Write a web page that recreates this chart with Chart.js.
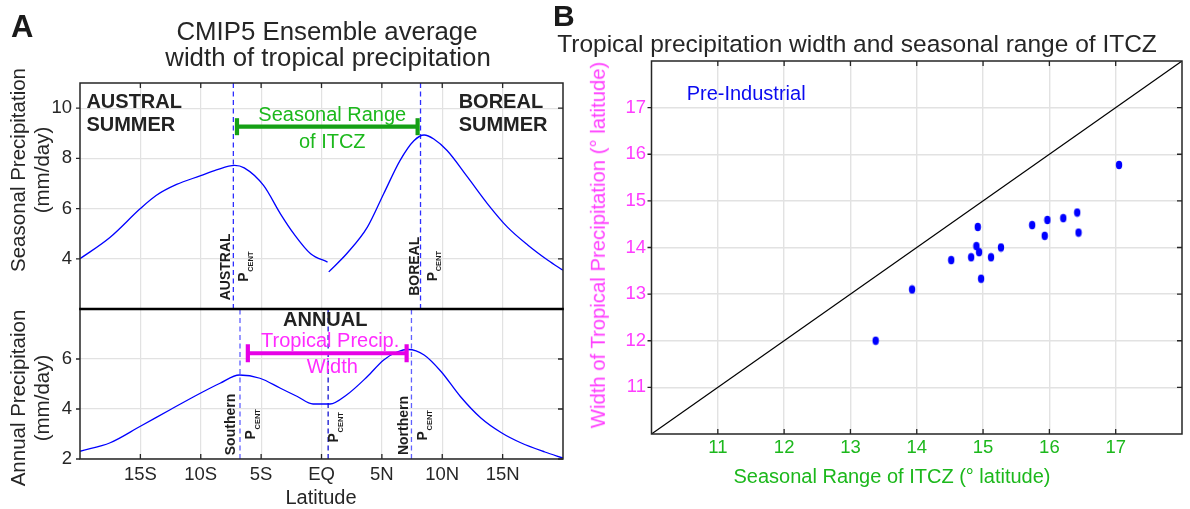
<!DOCTYPE html>
<html><head><meta charset="utf-8">
<script src="https://cdn.jsdelivr.net/npm/chart.js@4/dist/chart.umd.min.js"></script>
<style>
html,body{margin:0;padding:0;background:#fff;}
#wrap{position:relative;width:1190px;height:509px;overflow:hidden;font-family:"Liberation Sans",Arial,Helvetica,sans-serif;color:#262626;}
canvas{position:absolute;left:0;top:0;}
.t{position:absolute;white-space:nowrap;line-height:1;}
.c{position:absolute;white-space:nowrap;line-height:1;transform:translateX(-50%);}
.rot{position:absolute;white-space:nowrap;transform:translate(-50%,-50%) rotate(-90deg);text-align:center;}
</style></head>
<body><div id="wrap">
<canvas id="aTop" width="1190" height="509"></canvas>
<canvas id="aBot" width="1190" height="509"></canvas>
<canvas id="bChart" width="1190" height="509"></canvas>

<div class="t" style="left:11px;top:11px;font-size:31px;font-weight:bold;color:#1a1a1a">A</div>
<div class="t" style="left:553px;top:1px;font-size:30px;font-weight:bold;color:#1a1a1a">B</div>
<div class="c" style="left:327px;top:19px;font-size:25.8px">CMIP5 Ensemble average</div>
<div class="c" style="left:328px;top:45.2px;font-size:25.8px">width of tropical precipitation</div>
<div class="c" style="left:857px;top:32.3px;font-size:24.5px">Tropical precipitation width and seasonal range of ITCZ</div>

<div class="rot" style="left:29.9px;top:170px;font-size:20.5px;line-height:24px">Seasonal Precipitation<br>(mm/day)</div>
<div class="rot" style="left:29.9px;top:397.5px;font-size:20.5px;line-height:24px">Annual Precipitaion<br>(mm/day)</div>
<div class="c" style="left:321px;top:487.4px;font-size:20px">Latitude</div>

<div class="rot" style="left:597.6px;top:245px;font-size:20.3px;line-height:1;color:#ff3cff">Width of Tropical Precipitation (° latitude)</div>
<div class="c" style="left:892px;top:465.7px;font-size:20px;color:#1cb81c">Seasonal Range of ITCZ (° latitude)</div>
</div>
<script>
// ---------------- data ----------------
// Panel A (top): seasonal precipitation (mm/day) vs latitude (deg, S negative)
const australLat = [-20, -17.5, -15, -13.7, -12, -10, -8.7, -7.2, -6.4, -4.8, -3.4, -2.3, -0.9, 0.5];
const australVal = [4.0, 4.86, 6.0, 6.52, 6.96, 7.31, 7.54, 7.72, 7.62, 6.92, 5.79, 5.0, 4.2, 3.87];
const borealLat = [0.6, 2.1, 3.8, 5.15, 6.5, 7.65, 8.5, 9.3, 10.4, 12.1, 13.75, 15.4, 17.1, 18.75, 20];
const borealVal = [3.48, 4.21, 5.26, 6.59, 7.91, 8.70, 8.93, 8.77, 8.31, 7.25, 6.19, 5.26, 4.54, 3.94, 3.54];
// Panel A (bottom): annual precipitation
const annualLat = [-20, -17.5, -15, -12.5, -10, -8.4, -6.8, -5.1, -3.4, -2, -0.7, 0.7, 2.1, 3.8, 5.15, 6.3, 7.2, 8.5, 9.9, 11.5, 13.2, 14.9, 16.5, 18.5, 20];
const annualVal = [2.31, 2.65, 3.31, 3.98, 4.64, 5.03, 5.36, 5.23, 4.83, 4.5, 4.2, 4.2, 4.57, 5.30, 5.96, 6.29, 6.38, 6.16, 5.50, 4.50, 3.64, 3.05, 2.65, 2.28, 2.04];
// precipitation centroids (latitude)
const seasonalPcent = [-7.3, 8.2];
const annualPcent = [-6.75, 0.55, 7.45];
// range bars (latitude end points)
const itczRangeBar = [-7.0, 7.96];
const precipWidthBar = [-6.1, 7.05];
// latitude ticks
const latTicks = [-15, -10, -5, 0, 5, 10, 15];
const latTickLabels = ['15S', '10S', '5S', 'EQ', '5N', '10N', '15N'];
const seasonalYTicks = [4, 6, 8, 10];
const annualYTicks = [2, 4, 6];
// Panel B: CMIP5 models, pre-industrial
const seasonalRange = [17.05, 16.42, 16.44, 16.21, 15.97, 15.93, 15.74, 15.27, 15.12, 14.92, 14.90, 14.94, 14.82, 14.52, 14.97, 13.93, 13.38];
const tropWidth     = [15.77, 14.75, 14.32, 14.63, 14.59, 14.25, 14.48, 14.00, 13.79, 14.44, 14.03, 13.90, 13.79, 13.73, 13.33, 13.10, 12.00];
const bTicks = [11, 12, 13, 14, 15, 16, 17];
const oneToOne = [10, 18];

// ---------------- helpers ----------------
const F = '"Liberation Sans", Arial, Helvetica, sans-serif';
const DARK = '#262626';
const GRID = '#e2e2e2';
const pts = (xs, ys) => xs.map((v, i) => ({x: v, y: ys[i]}));

function txt(ctx, s, x, y, font, color, align) {
  ctx.save(); ctx.font = font; ctx.fillStyle = color; ctx.textAlign = align || 'left';
  ctx.textBaseline = 'alphabetic'; ctx.fillText(s, x, y); ctx.restore();
}
function vlabel(ctx, cx, cy, line1, d1, d2) {
  ctx.save(); ctx.translate(cx, cy); ctx.rotate(-Math.PI / 2);
  ctx.fillStyle = '#1e1e1e'; ctx.textBaseline = 'alphabetic';
  if (line1) { ctx.font = 'bold 14px ' + F; ctx.textAlign = 'center'; ctx.fillText(line1, 0, d1 + 5); }
  ctx.textAlign = 'left';
  ctx.font = 'bold 14px ' + F; const wp = ctx.measureText('P').width;
  ctx.font = 'bold 7.5px ' + F; const wc = ctx.measureText('CENT').width;
  const x0 = -(wp + wc) / 2;
  ctx.font = 'bold 14px ' + F; ctx.fillText('P', x0, d2 + 5);
  ctx.font = 'bold 7.5px ' + F; ctx.fillText('CENT', x0 + wp + 0.5, d2 + 9.7);
  ctx.restore();
}
function framePlugin(o) {
  return {
    id: 'frame' + Math.random().toString(36).slice(2),
    afterDraw(chart) {
      const {ctx, chartArea: a, scales} = chart;
      const xs = scales.x, ys = scales.y;
      ctx.save();
      ctx.strokeStyle = DARK; ctx.lineWidth = 1.5; ctx.lineCap = 'square';
      ctx.beginPath();
      if (o.top) { ctx.moveTo(a.left, a.top); ctx.lineTo(a.right, a.top); }
      if (o.bottom) { ctx.moveTo(a.left, a.bottom); ctx.lineTo(a.right, a.bottom); }
      if (o.left) { ctx.moveTo(a.left, a.top); ctx.lineTo(a.left, a.bottom); }
      if (o.right) { ctx.moveTo(a.right, a.top); ctx.lineTo(a.right, a.bottom); }
      ctx.stroke();
      ctx.lineCap = 'butt'; ctx.lineWidth = 1.3;
      ctx.beginPath();
      xs.ticks.forEach(t => {
        const p = xs.getPixelForValue(t.value);
        if (o.tTop) { ctx.moveTo(p, a.top); ctx.lineTo(p, a.top + 5); }
        if (o.tBottom) { ctx.moveTo(p, a.bottom); ctx.lineTo(p, a.bottom - 5); }
      });
      ys.ticks.forEach(t => {
        const p = ys.getPixelForValue(t.value);
        if (o.tLeft) { ctx.moveTo(a.left - 4, p); ctx.lineTo(a.left, p); }
        if (o.tRight) { ctx.moveTo(a.right, p); ctx.lineTo(a.right - 5, p); }
      });
      ctx.stroke();
      if (o.divider) {
        ctx.strokeStyle = '#000'; ctx.lineWidth = 2.5; ctx.lineCap = 'butt';
        ctx.beginPath(); ctx.moveTo(a.left - 0.75, a.top); ctx.lineTo(a.right + 0.75, a.top); ctx.stroke();
      }
      ctx.restore();
    }
  };
}
const baseOpts = {
  responsive: false, animation: false, events: [],
  plugins: {legend: {display: false}, tooltip: {enabled: false}, title: {display: false}}
};
function latScale(showLabels, h) {
  return {
    type: 'linear', min: -20, max: 20,
    afterBuildTicks: s => { s.ticks = latTicks.map(v => ({value: v})); },
    afterFit: s => { s.height = h; },
    grid: {color: GRID, lineWidth: 1.2, drawTicks: false},
    border: {display: false},
    ticks: {display: showLabels, padding: 4.5, color: DARK, font: {family: F, size: 18.5},
            maxRotation: 0, autoSkip: false,
            callback: v => latTickLabels[latTicks.indexOf(v)]}
  };
}
function valScale(min, max, tks) {
  return {
    type: 'linear', min: min, max: max,
    afterBuildTicks: s => { s.ticks = tks.map(v => ({value: v})); },
    afterFit: s => { s.width = 40; },
    grid: {color: GRID, lineWidth: 1.2, drawTicks: false},
    border: {display: false},
    ticks: {padding: 8, color: DARK, font: {family: F, size: 18.5}, autoSkip: false}
  };
}
const curve = (d) => ({data: d, showLine: true, borderColor: '#0000ff', borderWidth: 1.3, pointRadius: 0,
                       cubicInterpolationMode: 'monotone', fill: false});
const vdash = (x, lo, hi, col) => ({data: [{x: x, y: lo}, {x: x, y: hi}], showLine: true, borderColor: col,
                       borderWidth: 1.3, borderDash: [5, 3.5], pointRadius: 0});
const rangeBar = (ends, yv, col, r) => ({data: ends.map(v => ({x: v, y: yv})), showLine: true, borderColor: col,
                       borderWidth: 4.2, pointStyle: 'line', rotation: 90, pointRadius: r, pointBorderWidth: 4.2,
                       pointBorderColor: col, pointBackgroundColor: col});

// ---------------- Panel A top ----------------
new Chart(document.getElementById('aTop'), {
  type: 'scatter',
  data: {datasets: [
    rangeBar(itczRangeBar, 9.26, '#15a015', 8.5),
    curve(pts(australLat, australVal)),
    curve(pts(borealLat, borealVal)),
    vdash(seasonalPcent[0], 2, 11, '#2e2eff'),
    vdash(seasonalPcent[1], 2, 11, '#2e2eff')
  ]},
  options: Object.assign({}, baseOpts, {
    layout: {padding: {left: 40, top: 83, right: 627, bottom: 200}},
    scales: {x: latScale(false, 0), y: valScale(2, 11, seasonalYTicks)}
  }),
  plugins: [framePlugin({top: true, left: true, right: true, tTop: true, tLeft: true, tRight: true}), {
    id: 'annTop',
    afterDatasetsDraw(chart) {
      const {ctx, scales: {x, y}} = chart;
      const X = v => x.getPixelForValue(v), Y = v => y.getPixelForValue(v);
      const B20 = 'bold 20px ' + F;
      txt(ctx, 'AUSTRAL', X(-19.47), Y(10.02), B20, '#222');
      txt(ctx, 'SUMMER', X(-19.47), Y(9.07), B20, '#222');
      txt(ctx, 'BOREAL', X(11.36), Y(10.02), B20, '#222');
      txt(ctx, 'SUMMER', X(11.36), Y(9.07), B20, '#222');
      txt(ctx, 'Seasonal Range', X(0.89), Y(9.47), '20px ' + F, '#1cb81c', 'center');
      txt(ctx, 'of ITCZ', X(0.89), Y(8.42), '20px ' + F, '#1cb81c', 'center');
      vlabel(ctx, X(seasonalPcent[0]), Y(3.68), 'AUSTRAL', -8, 9.5);
      vlabel(ctx, X(seasonalPcent[1]), Y(3.70), 'BOREAL', -7, 11);
    }
  }]
});

// ---------------- Panel A bottom ----------------
new Chart(document.getElementById('aBot'), {
  type: 'scatter',
  data: {datasets: [
    rangeBar(precipWidthBar, 6.23, '#e600e6', 9),
    curve(pts(annualLat, annualVal)),
    vdash(annualPcent[0], 2, 8, '#6060ff'),
    vdash(annualPcent[1], 2, 8, '#1414d0'),
    vdash(annualPcent[2], 2, 8, '#6060ff')
  ]},
  options: Object.assign({}, baseOpts, {
    layout: {padding: {left: 40, top: 309, right: 627, bottom: 10}},
    scales: {x: latScale(true, 40), y: valScale(2, 8, annualYTicks)}
  }),
  plugins: [framePlugin({bottom: true, left: true, right: true, tBottom: true, tLeft: true, tRight: true, divider: true}), {
    id: 'annBot',
    afterDatasetsDraw(chart) {
      const {ctx, scales: {x, y}} = chart;
      const X = v => x.getPixelForValue(v), Y = v => y.getPixelForValue(v);
      txt(ctx, 'ANNUAL', X(0.31), Y(7.31), 'bold 20px ' + F, '#222', 'center');
      txt(ctx, 'Tropical Precip.', X(0.72), Y(6.48), '20px ' + F, '#ff2bff', 'center');
      txt(ctx, 'Width', X(0.89), Y(5.44), '20px ' + F, '#ff2bff', 'center');
      vlabel(ctx, X(annualPcent[0]), Y(3.38), 'Southern', -10, 10);
      vlabel(ctx, X(annualPcent[1]), Y(3.26), '', -8, 5.3);
      vlabel(ctx, X(annualPcent[2]), Y(3.34), 'Northern', -8, 11);
    }
  }]
});

// ---------------- Panel B ----------------
const dot = document.createElement('canvas'); dot.width = 8; dot.height = 10;
(function () { const c = dot.getContext('2d'); c.fillStyle = '#0000ff'; c.beginPath();
  c.ellipse(4, 5, 3.2, 4.2, 0, 0, 2 * Math.PI); c.fill(); })();

new Chart(document.getElementById('bChart'), {
  type: 'scatter',
  data: {datasets: [
    {data: pts(seasonalRange, tropWidth), pointStyle: dot, pointRadius: 4, showLine: false},
    {data: pts(oneToOne, oneToOne), showLine: true, borderColor: '#000', borderWidth: 1.2, pointRadius: 0}
  ]},
  options: Object.assign({}, baseOpts, {
    layout: {padding: {left: 606.5, top: 61, right: 8, bottom: 45}},
    scales: {
      x: {type: 'linear', min: 10, max: 18,
          afterBuildTicks: s => { s.ticks = bTicks.map(v => ({value: v})); },
          afterFit: s => { s.height = 30; },
          grid: {color: GRID, lineWidth: 1.4, drawTicks: false}, border: {display: false},
          ticks: {padding: 3.2, color: '#1cb81c', font: {family: F, size: 18.5}, autoSkip: false, maxRotation: 0}},
      y: {type: 'linear', min: 10, max: 18,
          afterBuildTicks: s => { s.ticks = bTicks.map(v => ({value: v})); },
          afterFit: s => { s.width = 45; },
          grid: {color: GRID, lineWidth: 1.4, drawTicks: false}, border: {display: false},
          ticks: {padding: 5.5, color: '#ff3cff', font: {family: F, size: 18.5}, autoSkip: false}}
    }
  }),
  plugins: [framePlugin({top: true, bottom: true, left: true, right: true, tTop: true, tBottom: true, tLeft: true, tRight: true}), {
    id: 'annB',
    afterDatasetsDraw(chart) {
      const {ctx, scales: {x, y}} = chart;
      txt(ctx, 'Pre-Industrial', x.getPixelForValue(10.53), y.getPixelForValue(17.17), '20px ' + F, '#0a0af0', 'left');
    }
  }]
});
</script>
</body></html>
